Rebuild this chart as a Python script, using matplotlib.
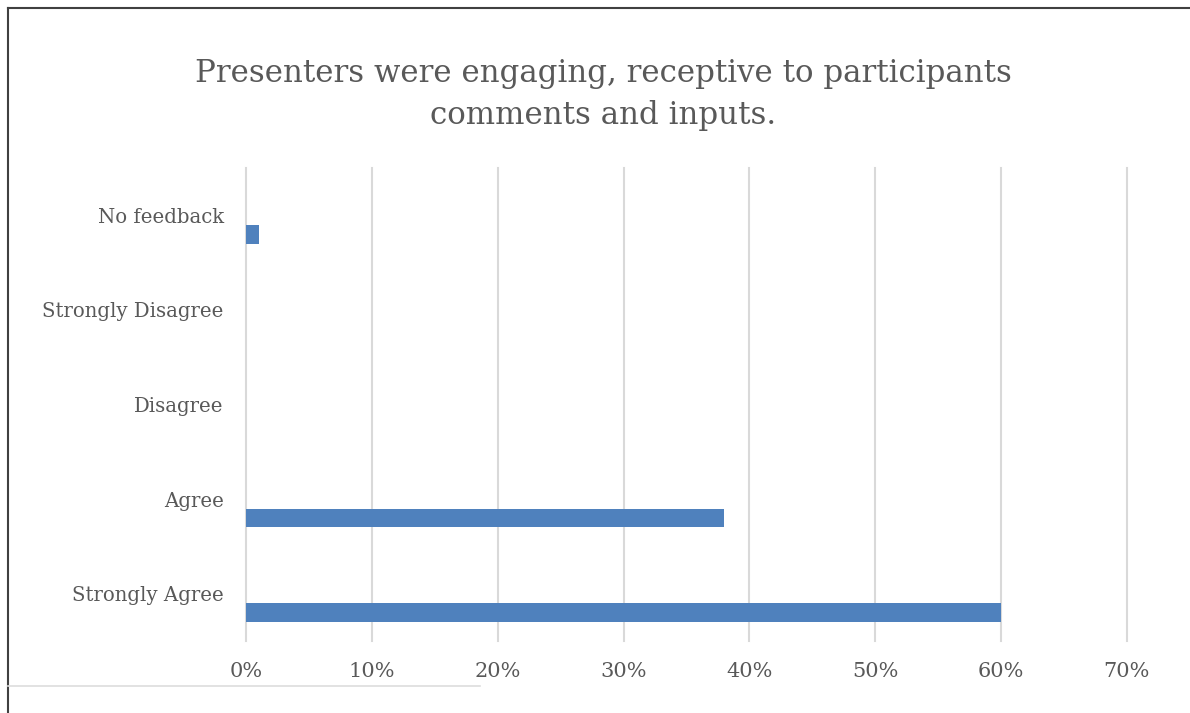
import numpy as np
import matplotlib.pyplot as plt
from matplotlib.lines import Line2D
from matplotlib.ticker import FuncFormatter

# --- datos de la encuesta ---
categories = ['Strongly Agree', 'Agree', 'Disagree', 'Strongly Disagree', 'No feedback']
percentages = [60, 38, 0, 0, 1]
x_ticks = [0, 10, 20, 30, 40, 50, 60, 70]
title = 'Presenters were engaging, receptive to participants\ncomments and inputs.'

TEXT_GRAY = '#595959'
BAR_BLUE = '#4f81bd'
GRID_GRAY = '#d9d9d9'

plt.rcParams['font.family'] = ['DejaVu Serif']

fig = plt.figure(figsize=(11.9, 7.13), dpi=100)
ax = fig.add_axes([0.2067, 0.101, 0.7403, 0.6634])

# barras desplazadas bajo la etiqueta (serie 1 de un grupo de dos)
y = np.arange(len(categories))
ax.barh(y - 0.2, percentages, height=0.2, color=BAR_BLUE, zorder=3)

ax.set_xlim(0, 70)
ax.set_ylim(-0.5, len(categories) - 0.5)
ax.set_xticks(x_ticks)
ax.xaxis.set_major_formatter(FuncFormatter(lambda v, _: f'{v:.0f}%'))
ax.set_yticks(y)
ax.set_yticklabels(categories)

ax.tick_params(axis='x', length=0, pad=15, labelsize=15, labelcolor=TEXT_GRAY)
ax.tick_params(axis='y', length=0, pad=16, labelsize=14.2, labelcolor=TEXT_GRAY)
ax.grid(axis='x', color=GRID_GRAY, linewidth=1.5, zorder=0)
for gl in ax.get_xgridlines():
    gl.set_clip_on(False)
for side in ax.spines.values():
    side.set_visible(False)

fig.text(0.507, 0.867, title, ha='center', va='center', fontsize=22.2,
         color=TEXT_GRAY, linespacing=1.45)

# marco del recuadro
fig.add_artist(Line2D([8 / 1190, 8 / 1190], [0, 1 - 8 / 713],
                      transform=fig.transFigure, color='#404040', linewidth=1.5))
fig.add_artist(Line2D([8 / 1190, 1], [1 - 8 / 713, 1 - 8 / 713],
                      transform=fig.transFigure, color='#404040', linewidth=1.5))
fig.add_artist(Line2D([8 / 1190, 480 / 1190], [1 - 686 / 713, 1 - 686 / 713],
                      transform=fig.transFigure, color='#dddddd', linewidth=1.2))

fig.savefig('out.png', dpi=100)
